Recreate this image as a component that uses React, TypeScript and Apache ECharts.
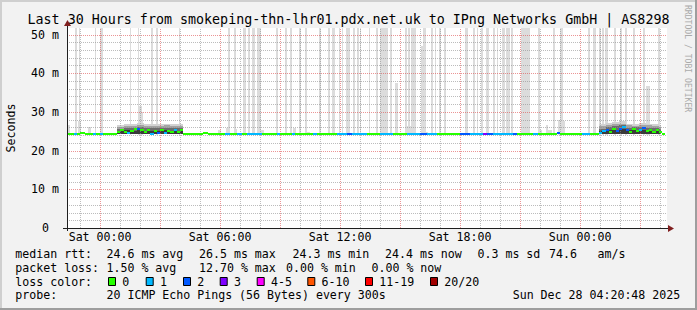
import React, { useEffect, useRef } from 'react';
import * as echarts from 'echarts';

// ---- axes (hours relative to Sat 00:00; ms) ----
const X_MIN = -1.6533; // Fri 22:20:48
const X_MAX = 28.3467; // Sun 04:20:48
const Y_MAX = 51.68;

const xTickHours = [0, 6, 12, 18, 24];
const xTickLabels = ['Sat 00:00', 'Sat 06:00', 'Sat 12:00', 'Sat 18:00', 'Sun 00:00'];
const yTickValues = [0, 10, 20, 30, 40, 50];
const yTickLabels = ['0', '10 m', '20 m', '30 m', '40 m', '50 m'];

const title = 'Last 30 Hours from smokeping-thn-lhr01.pdx.net.uk to IPng Networks GmbH | AS8298';
const yTitle = 'Seconds';
const watermark = 'RRDTOOL / TOBI OETIKER';

const lossColors = ['#26ff00', '#00b8ff', '#0059ff', '#7e00ff', '#ff00ff', '#ff5500', '#ff0000', '#a10000'];
const lossLabels = ['0', '1', '2', '3', '4-5', '6-10', '11-19', '20/20'];

const rttStats = ['24.6 ms avg', '26.5 ms max', '24.3 ms min', '24.4 ms now', '0.3 ms sd', '74.6', 'am/s'];
const lossStats = ['1.50 % avg', '12.70 % max', '0.00 % min', '0.00 % now'];
const probeText = '20 ICMP Echo Pings (56 Bytes) every 300s';
const stampText = 'Sun Dec 28 04:20:48 2025';

// lowest ping (bottom of the smoke) in ms
const minPing = 24.1;

// [startHour, endHour, maxPingMs] - light grey outlier smoke (60 = off the top)
const maxPingBars: [number, number, number][] = [
  [-1.64, -1.5, 26.7], [-1.25, -1.17, 60], [-1.1, -0.94, 27.6], [-1.07, -0.98, 60],
  [-0.6, -0.47, 26.2], [-0.25, -0.18, 60], [0.0, 0.17, 60], [1.5, 1.57, 60],
  [1.9, 1.97, 60], [1.95, 2.1, 31.4], [2.1, 2.17, 30.1], [2.55, 2.67, 60],
  [2.79, 2.92, 60], [3.94, 4.0, 60], [5.9, 6.03, 25.3], [6.3, 6.42, 25.8],
  [6.42, 6.5, 60], [6.72, 6.82, 60], [6.75, 6.85, 25.6], [7.15, 7.29, 60],
  [7.4, 7.52, 60], [7.6, 7.73, 60], [7.83, 7.93, 60], [7.95, 8.05, 60],
  [8.0, 8.2, 25.3], [8.8, 8.92, 60], [9.27, 9.34, 60], [9.52, 9.59, 60],
  [9.63, 9.8, 25.8], [9.97, 10.04, 60], [10.25, 10.34, 60], [10.3, 10.5, 24.9],
  [10.97, 11.04, 60], [11.39, 11.52, 60], [11.59, 11.75, 60], [11.94, 12.0, 60],
  [12.09, 12.15, 60], [12.3, 12.5, 60], [12.65, 12.75, 60], [12.84, 12.94, 60],
  [12.98, 13.03, 60], [13.43, 13.5, 60], [13.8, 13.89, 60], [14.0, 14.42, 60],
  [14.5, 14.59, 60], [14.75, 14.89, 37.4], [15.25, 15.34, 60], [15.35, 15.53, 26.3],
  [15.42, 15.5, 60], [15.55, 15.79, 60], [16.05, 16.15, 47.1], [16.15, 16.29, 60],
  [16.25, 16.4, 24.9], [16.55, 16.67, 60], [16.75, 16.82, 60], [16.95, 17.04, 60],
  [17.22, 17.29, 60], [18.25, 18.42, 60], [18.67, 18.75, 60], [18.84, 18.92, 60],
  [19.05, 19.17, 60], [19.29, 19.47, 60], [19.67, 19.75, 60], [19.84, 19.92, 60],
  [20.12, 20.25, 60], [20.29, 20.5, 60], [20.54, 20.65, 60], [21.05, 21.5, 60],
  [21.92, 22.0, 60], [22.0, 22.08, 25.3], [22.3, 22.42, 26.7], [22.42, 22.58, 25.3],
  [22.64, 22.75, 60], [22.88, 23.02, 27.9], [23.0, 23.14, 60], [23.02, 23.25, 27.7],
  [24.39, 24.5, 60], [24.67, 24.79, 60], [24.95, 25.05, 60], [25.12, 25.22, 60],
  [25.25, 25.42, 60], [25.72, 25.8, 60], [26.0, 26.09, 60], [26.25, 26.34, 60],
  [26.64, 26.75, 60], [27.14, 27.25, 60], [27.29, 27.5, 36.8], [27.89, 28.02, 60],
];

// [startHour, endHour, lowMs, coreTopMs, darkTopMs, midTopMs, lightTopMs] - ping spread (smoke)
const smokeBands: [number, number, number, number, number, number, number][] = [
  [0.85, 1.18, 24.2, 25.0, 25.6, 26.1, 26.6],
  [1.18, 1.52, 24.2, 25.2, 25.9, 26.4, 26.8],
  [1.52, 1.85, 24.3, 25.1, 25.8, 26.4, 27.0],
  [1.85, 2.18, 24.2, 25.3, 26.0, 26.6, 27.2],
  [2.18, 2.52, 24.2, 25.0, 25.8, 26.4, 26.9],
  [2.52, 2.85, 24.3, 25.1, 25.9, 26.3, 26.8],
  [2.85, 3.18, 24.2, 25.0, 25.8, 26.4, 26.9],
  [3.18, 3.52, 24.2, 25.2, 25.9, 26.5, 27.0],
  [3.52, 3.85, 24.3, 25.0, 25.8, 26.3, 26.8],
  [3.85, 4.15, 24.2, 25.1, 25.9, 26.4, 26.9],
  [24.95, 25.28, 24.3, 25.0, 25.6, 26.3, 26.9],
  [25.28, 25.62, 24.2, 25.3, 26.1, 26.7, 27.2],
  [25.62, 25.95, 24.2, 25.4, 26.3, 26.8, 27.3],
  [25.95, 26.28, 24.3, 25.6, 26.6, 27.0, 27.6],
  [26.28, 26.62, 24.2, 25.2, 25.9, 26.5, 27.0],
  [26.62, 26.95, 24.3, 25.3, 26.0, 26.4, 26.9],
  [26.95, 27.28, 24.2, 25.3, 26.1, 26.6, 27.1],
  [27.28, 27.62, 24.3, 25.2, 25.9, 26.5, 27.0],
  [27.62, 27.95, 24.2, 25.1, 25.8, 26.4, 26.8],
  [27.95, 28.05, 24.3, 25.0, 25.6, 26.1, 26.5],
];

// [startHour, endHour, medianMs, lossIndex]
const medianSegments: [number, number, number, number][] = [
  [-1.65, -1.3, 24.3, 0], [-1.3, -1.15, 24.3, 1], [-1.15, -1.0, 24.3, 0], [-1.0, -0.75, 24.6, 0],
  [-0.75, -0.35, 24.3, 0], [-0.35, -0.2, 24.3, 1], [-0.2, 0.0, 24.3, 0], [0.0, 0.17, 24.3, 1],
  [0.17, 0.85, 24.3, 0],
  [0.85, 1.02, 24.9, 0], [1.02, 1.18, 25.3, 0], [1.18, 1.35, 24.8, 0], [1.35, 1.52, 24.5, 1],
  [1.52, 1.68, 25.1, 0], [1.68, 1.85, 25.5, 0], [1.85, 2.02, 25.7, 2], [2.02, 2.18, 25.2, 0],
  [2.18, 2.35, 24.7, 0], [2.35, 2.52, 25.4, 0], [2.52, 2.68, 24.4, 1], [2.68, 2.85, 25.0, 0],
  [2.85, 3.02, 24.6, 2], [3.02, 3.18, 25.3, 0], [3.18, 3.35, 24.5, 1], [3.35, 3.52, 25.1, 0],
  [3.52, 3.68, 24.7, 0], [3.68, 3.85, 25.4, 1], [3.85, 4.02, 24.8, 0], [4.02, 4.15, 25.2, 0],
  [4.15, 5.15, 24.3, 0], [5.15, 5.4, 24.6, 0], [5.4, 6.25, 24.3, 0], [6.25, 6.5, 24.3, 1],
  [6.5, 6.83, 24.3, 0], [6.83, 7.08, 24.3, 1], [7.08, 7.33, 24.3, 0], [7.33, 8.08, 24.3, 1],
  [8.08, 8.83, 24.3, 0], [8.83, 9.0, 24.3, 1], [9.0, 9.58, 24.3, 0], [9.58, 9.75, 24.3, 1],
  [9.75, 10.65, 24.3, 0], [10.65, 10.83, 24.3, 1], [10.83, 11.83, 24.3, 0], [11.83, 12.33, 24.3, 1],
  [12.33, 12.58, 24.3, 2], [12.58, 13.33, 24.3, 1], [13.33, 14.0, 24.3, 0], [14.0, 14.67, 24.3, 1],
  [14.67, 15.33, 24.3, 0], [15.33, 16.0, 24.3, 1], [16.0, 16.33, 24.3, 2], [16.33, 16.83, 24.3, 1],
  [16.83, 18.0, 24.3, 0], [18.0, 18.5, 24.3, 2], [18.5, 19.17, 24.3, 1], [19.17, 19.33, 24.3, 3],
  [19.33, 19.67, 24.3, 2], [19.67, 20.67, 24.3, 1], [20.67, 20.83, 24.3, 2], [20.83, 21.67, 24.3, 0],
  [21.67, 21.92, 24.3, 1], [21.92, 22.83, 24.3, 0], [22.83, 23.0, 24.6, 2], [23.0, 24.08, 24.3, 0],
  [24.08, 24.5, 24.3, 1], [24.5, 24.95, 24.3, 0],
  [24.95, 25.12, 24.6, 1], [25.12, 25.28, 25.1, 1], [25.28, 25.45, 25.4, 2], [25.45, 25.62, 24.9, 0],
  [25.62, 25.78, 25.5, 0], [25.78, 25.95, 25.0, 2], [25.95, 26.12, 25.6, 2], [26.12, 26.28, 26.2, 1],
  [26.28, 26.45, 25.3, 2], [26.45, 26.62, 24.9, 0], [26.62, 26.78, 25.5, 0], [26.78, 26.95, 25.0, 0],
  [26.95, 27.12, 25.4, 1], [27.12, 27.28, 25.8, 2], [27.28, 27.45, 25.1, 0], [27.45, 27.62, 25.4, 0],
  [27.62, 27.78, 24.8, 0], [27.78, 27.95, 25.3, 0], [27.95, 28.12, 24.7, 0], [28.12, 28.23, 24.4, 0],
];

// ---- layout / style ----
const FONT = 'DejaVu Sans Mono';
const W = 697;
const H = 310;
const GRID = { left: 67, top: 28, width: 600, height: 200 };
const rowY = [253.5, 267.5, 281.5, 295.3];
const rowLabelX = 15.3;
const rttX = [106.5, 199, 292.5, 385, 477.5, 549, 597.5];
const lossX = [106.5, 199, 286, 371.5];
const boxX = [108, 145.7, 183, 219.7, 256.7, 307.3, 365, 430];
const smokeColors = ['#d2d2d2', '#a4a4a4', '#6c6c6c', '#3a3a3a'];

function gridTicks() {
  const items: number[][] = [];
  for (let h = -1; h <= 28; h++) items.push([0, h, h % 3 === 0 ? 1 : 0]);
  for (let v = 2; v <= 50; v += 2) items.push([1, v, v % 10 === 0 ? 1 : 0]);
  return items;
}

function txt(text: string, x: number, y: number, size = 11.6, align = 'left', extra: any = {}) {
  return {
    type: 'text',
    x,
    y,
    silent: true,
    ...extra,
    style: { text, fill: extra.fill || '#000', fontFamily: FONT, fontSize: size, textAlign: align, textVerticalAlign: 'middle' },
  };
}

export default function App() {
  const ref = useRef<HTMLDivElement>(null);

  useEffect(() => {
    document.body.style.margin = '0';
    const chart = echarts.init(ref.current!, null, { renderer: 'svg' });

    const graphic: any[] = [
      { type: 'rect', shape: { x: 0, y: 0, width: W, height: 2 }, style: { fill: '#cfcfcf' }, silent: true },
      { type: 'rect', shape: { x: 0, y: 0, width: 2, height: H }, style: { fill: '#cfcfcf' }, silent: true },
      { type: 'rect', shape: { x: 0, y: H - 2, width: W, height: 2 }, style: { fill: '#9e9e9e' }, silent: true },
      { type: 'rect', shape: { x: W - 2, y: 0, width: 2, height: H }, style: { fill: '#9e9e9e' }, silent: true },
      txt(title, 348.5, 19, 13.33, 'center'),
      txt(yTitle, 11, 128, 11.6, 'center', { rotation: Math.PI / 2 }),
      txt(watermark, 688, 5, 8.1, 'left', { rotation: -Math.PI / 2, fill: '#aaaaaa' }),
      // axis extensions and arrows
      { type: 'line', shape: { x1: 63, y1: 228.5, x2: 669, y2: 228.5 }, style: { stroke: '#1f1f1f', lineWidth: 1 }, silent: true, z: 10 },
      { type: 'line', shape: { x1: 67.5, y1: 231, x2: 67.5, y2: 24 }, style: { stroke: '#1f1f1f', lineWidth: 1 }, silent: true, z: 10 },
      { type: 'polygon', shape: { points: [[668, 225], [674, 228.5], [668, 232]] }, style: { fill: '#801f1f' }, silent: true, z: 10 },
      { type: 'polygon', shape: { points: [[64, 26], [67.5, 20], [71, 26]] }, style: { fill: '#801f1f' }, silent: true, z: 10 },
      // legend rows
      txt('median rtt:', rowLabelX, rowY[0]),
      txt('packet loss:', rowLabelX, rowY[1]),
      txt('loss color:', rowLabelX, rowY[2]),
      txt('probe:', rowLabelX, rowY[3]),
      txt(probeText, 106.5, rowY[3]),
      txt(stampText, 512.7, rowY[3]),
    ];
    rttStats.forEach((s, i) => graphic.push(txt(s, rttX[i], rowY[0])));
    lossStats.forEach((s, i) => graphic.push(txt(s, lossX[i], rowY[1])));
    lossLabels.forEach((s, i) => {
      graphic.push({
        type: 'rect',
        shape: { x: boxX[i] + 0.5, y: 277.5, width: 7, height: 8 },
        style: { fill: lossColors[i], stroke: '#000', lineWidth: 1 },
        silent: true,
      });
      graphic.push(txt(s, boxX[i] + 14.3, rowY[2]));
    });

    const option: any = {
      animation: false,
      backgroundColor: '#f2f2f2',
      grid: { ...GRID, show: true, backgroundColor: '#ffffff', borderWidth: 0, containLabel: false },
      xAxis: {
        type: 'value',
        min: X_MIN,
        max: X_MAX,
        splitLine: { show: false },
        axisTick: { show: false },
        axisLine: { show: true, onZero: false, lineStyle: { color: '#1f1f1f', width: 1 } },
        axisLabel: {
          customValues: xTickHours,
          formatter: (v: number) => {
            const i = xTickHours.findIndex((t) => Math.abs(t - v) < 1e-6);
            return i >= 0 ? xTickLabels[i] : '';
          },
          color: '#000',
          fontFamily: FONT,
          fontSize: 11.6,
          margin: 9,
          verticalAlign: 'middle',
        },
      },
      yAxis: {
        type: 'value',
        min: 0,
        max: Y_MAX,
        splitLine: { show: false },
        axisTick: { show: false },
        axisLine: { show: true, onZero: false, lineStyle: { color: '#1f1f1f', width: 1 } },
        axisLabel: {
          customValues: yTickValues,
          formatter: (v: number) => {
            const i = yTickValues.findIndex((t) => Math.abs(t - v) < 1e-6);
            if (i < 0) return '';
            return v === 0 ? '{z|' + yTickLabels[i] + '}' : yTickLabels[i];
          },
          rich: { z: { padding: [0, 10, 0, 0], fontFamily: FONT, fontSize: 11.6, color: '#000' } },
          color: '#000',
          fontFamily: FONT,
          fontSize: 11.6,
          margin: 8,
          align: 'right',
        },
      },
      series: [
        {
          type: 'custom',
          name: 'maxping',
          silent: true,
          clip: true,
          z: 1,
          dimensions: ['x0', 'x1', 'y0', 'y1'],
          encode: { x: [0, 1], y: [2, 3] },
          data: maxPingBars.map((b) => [b[0], b[1], minPing, b[2]]),
          renderItem: (_p: any, api: any) => {
            const a = api.coord([api.value(0), Math.min(api.value(3), Y_MAX)]);
            const b = api.coord([api.value(1), api.value(2)]);
            const x0 = Math.round(a[0]);
            const x1 = Math.max(Math.round(b[0]), x0 + 1);
            const y0 = Math.round(a[1]);
            const y1 = Math.round(b[1]);
            return { type: 'rect', shape: { x: x0, y: y0, width: x1 - x0, height: y1 - y0 }, style: { fill: '#dcdcdc' } };
          },
        },
        {
          type: 'custom',
          name: 'smoke',
          silent: true,
          clip: true,
          z: 2,
          dimensions: ['x0', 'x1', 'lo', 'core', 'dark', 'mid', 'light'],
          encode: { x: [0, 1], y: [2, 6] },
          data: smokeBands,
          renderItem: (_p: any, api: any) => {
            const xa = Math.round(api.coord([api.value(0), 0])[0]);
            const xb = Math.round(api.coord([api.value(1), 0])[0]);
            const yLo = Math.round(api.coord([0, api.value(2)])[1]);
            const children: any[] = [];
            [6, 5, 4, 3].forEach((dim, k) => {
              const yt = Math.round(api.coord([0, api.value(dim)])[1]);
              children.push({ type: 'rect', shape: { x: xa, y: yt, width: xb - xa, height: yLo - yt }, style: { fill: smokeColors[k] } });
            });
            return { type: 'group', children };
          },
        },
        {
          type: 'custom',
          name: 'grid',
          silent: true,
          clip: true,
          z: 3,
          data: gridTicks(),
          renderItem: (_p: any, api: any) => {
            const kind = api.value(0);
            const v = api.value(1);
            const major = api.value(2) === 1;
            const stroke = major ? 'rgba(222,79,79,0.6)' : 'rgba(143,143,143,0.6)';
            if (kind === 0) {
              const x = Math.round(api.coord([v, 0])[0]) + 0.5;
              const yb = api.coord([v, 0])[1];
              const yt = api.coord([v, Y_MAX])[1];
              return { type: 'line', shape: { x1: x, y1: yb, x2: x, y2: yt }, style: { stroke, lineWidth: 1, lineDash: [1, 1] } };
            }
            const y = Math.round(api.coord([0, v])[1]) + 0.5;
            const xl = api.coord([X_MIN, v])[0];
            const xr = api.coord([X_MAX, v])[0];
            return { type: 'line', shape: { x1: xl, y1: y, x2: xr, y2: y }, style: { stroke, lineWidth: 1, lineDash: [1, 1] } };
          },
        },
        {
          type: 'custom',
          name: 'median',
          silent: true,
          clip: true,
          z: 4,
          dimensions: ['x0', 'x1', 'ms', 'loss'],
          encode: { x: [0, 1], y: 2 },
          data: medianSegments,
          renderItem: (_p: any, api: any) => {
            const a = api.coord([api.value(0), api.value(2)]);
            const b = api.coord([api.value(1), api.value(2)]);
            const x0 = Math.round(a[0]);
            const x1 = Math.round(b[0]);
            const y = Math.round(a[1]) - 1;
            return { type: 'rect', shape: { x: x0, y, width: Math.max(x1 - x0, 1), height: 2 }, style: { fill: lossColors[api.value(3)] } };
          },
        },
      ],
      graphic,
    };

    chart.setOption(option);
    return () => chart.dispose();
  }, []);

  return <div ref={ref} style={{ width: W, height: H }} />;
}
